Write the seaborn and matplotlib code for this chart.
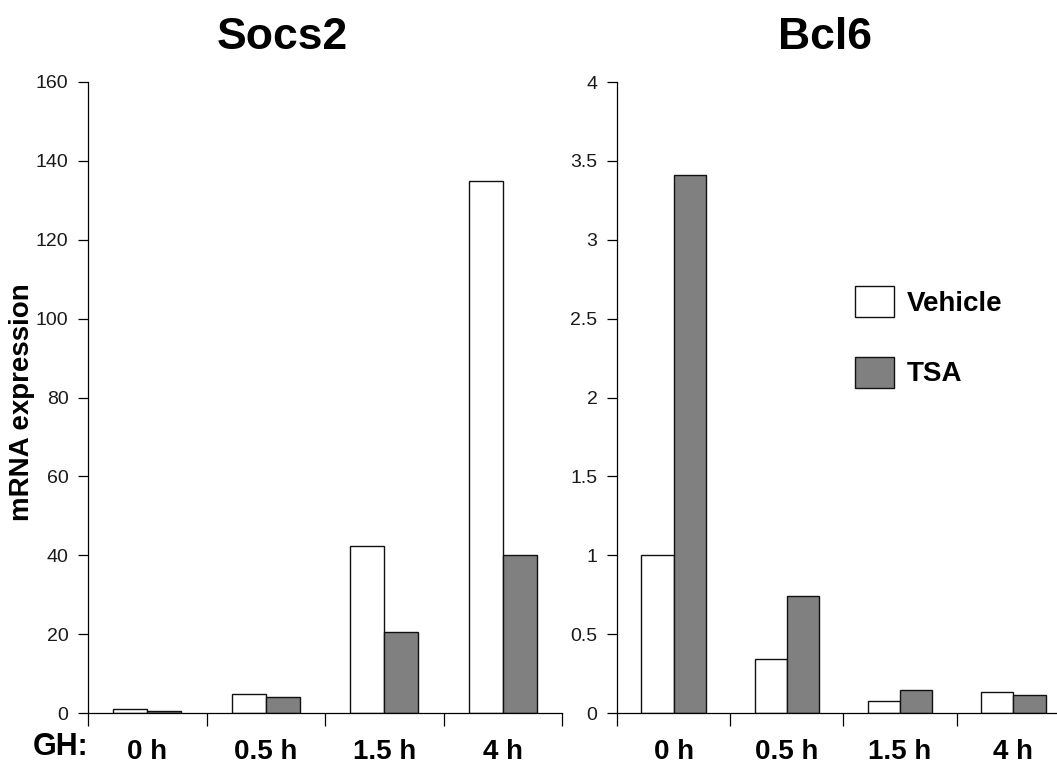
import matplotlib
matplotlib.use("Agg")
import matplotlib.pyplot as plt
import seaborn as sns
import pandas as pd
import numpy as np

# Time points after GH stimulation
times = ["0 h", "0.5 h", "1.5 h", "4 h"]
treatments = ["Vehicle", "TSA"]

# Relative mRNA expression per gene
socs2_vehicle = [1.1, 4.8, 42.3, 135.0]
socs2_tsa = [0.5, 4.1, 20.5, 40.0]
bcl6_vehicle = [1.0, 0.34, 0.075, 0.13]
bcl6_tsa = [3.41, 0.74, 0.148, 0.116]

socs2_ticks = [0, 20, 40, 60, 80, 100, 120, 140, 160]
bcl6_ticks = [0, 0.5, 1, 1.5, 2, 2.5, 3, 3.5, 4]


def long_frame(vehicle, tsa):
    return pd.DataFrame({
        "time": times * 2,
        "treatment": ["Vehicle"] * len(times) + ["TSA"] * len(times),
        "expression": list(vehicle) + list(tsa),
    })


sns.set_style("ticks")
plt.rcParams["font.family"] = ["Liberation Sans", "DejaVu Sans"]
plt.rcParams["text.color"] = "black"
plt.rcParams["xtick.color"] = "black"
plt.rcParams["ytick.color"] = "black"
plt.rcParams["axes.labelcolor"] = "black"

W, H = 1057, 766
fig = plt.figure(figsize=(W / 100, H / 100), dpi=100)


def px_axes(x0, x1, ytop, ybot):
    return fig.add_axes([x0 / W, 1 - ybot / H, (x1 - x0) / W, (ybot - ytop) / H])


ax1 = px_axes(88, 562, 82, 713)
ax2 = px_axes(617, 1070, 82, 713)

palette = {"Vehicle": "white", "TSA": "#808080"}


def draw(ax, vehicle, tsa, yticks, title, title_x):
    df = long_frame(vehicle, tsa)
    sns.barplot(data=df, x="time", y="expression", hue="treatment",
                order=times, hue_order=treatments, palette=palette,
                width=0.57, gap=0, edgecolor="#111111", linewidth=1.0,
                errorbar=None, ax=ax, legend=True)
    ax.set_xlim(-0.5, len(times) - 0.5)
    ax.set_ylim(yticks[0], yticks[-1])
    ax.set_yticks(yticks)
    ax.set_yticklabels([f"{t:g}" for t in yticks], fontsize=14, color="#1a1a1a")
    ax.set_xticks(range(len(times)))
    ax.set_xticklabels(times, fontsize=20, fontweight="bold")
    ax.set_xticks(np.arange(-0.5, len(times), 1.0), minor=True)
    ax.tick_params(axis="x", which="major", length=0, pad=19)
    ax.tick_params(axis="x", which="minor", length=9, width=0.9, color="black", direction="out")
    ax.tick_params(axis="y", length=7, width=0.9, color="black", direction="out", pad=7)
    ax.set_xlabel("")
    ax.set_ylabel("")
    for side in ("top", "right"):
        ax.spines[side].set_visible(False)
    for side in ("left", "bottom"):
        ax.spines[side].set_linewidth(0.9)
        ax.spines[side].set_color("black")
    ax.text(title_x, 1.052, title, transform=ax.transAxes, ha="center",
            va="baseline", fontsize=32, fontweight="bold")


draw(ax1, socs2_vehicle, socs2_tsa, socs2_ticks, "Socs2", 0.409)
draw(ax2, bcl6_vehicle, bcl6_tsa, bcl6_ticks, "Bcl6", 0.459)

handles, labels = ax2.get_legend_handles_labels()
ax1.get_legend().remove()
ax2.get_legend().remove()
fig.legend(handles, labels, loc="upper left",
           bbox_to_anchor=(855 / W, 1 - 286 / H), frameon=False,
           fontsize=20, handlelength=1.4, handleheight=1.35,
           handletextpad=0.45, labelspacing=1.42, borderpad=0,
           borderaxespad=0)
for t in fig.legends[0].get_texts():
    t.set_fontweight("bold")

fig.text(22 / W, 1 - 402 / H, "mRNA expression", rotation=90, ha="center",
         va="center", fontsize=20, fontweight="bold")
fig.text(33 / W, 1 - 755 / H, "GH:", ha="left", va="baseline",
         fontsize=22, fontweight="bold")

fig.savefig("out.png", dpi=100)
